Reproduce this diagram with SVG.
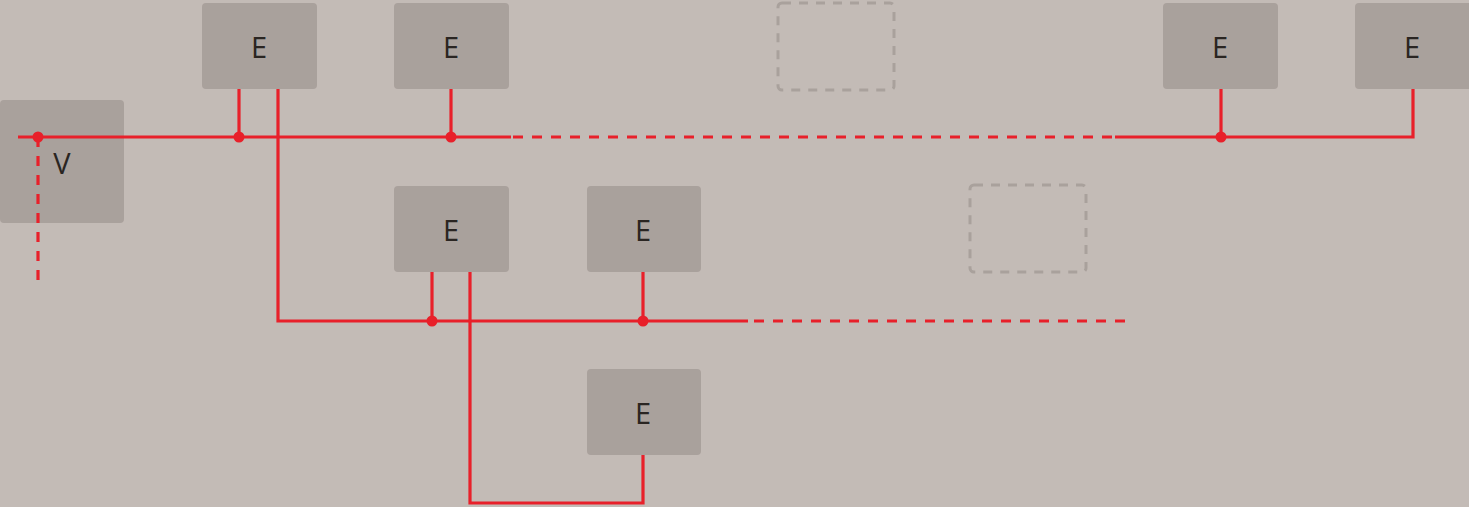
<svg xmlns="http://www.w3.org/2000/svg" width="1469" height="507" viewBox="0 0 1469 507">
<style>
.bg{fill:#c3bbb6}
.box{fill:#a9a19c}
.ghost{fill:none;stroke:#a9a19c;stroke-width:3;stroke-dasharray:9 8}
.lbl{font-family:"Open Sans","Liberation Sans",sans-serif;font-size:29px;fill:#2a2522;text-anchor:middle;dominant-baseline:central}
.w{fill:none;stroke:#e8202a;stroke-width:3.2}
.d{fill:none;stroke:#e8202a;stroke-width:3.2;stroke-dasharray:10 9}
.dot{fill:#e8202a}
</style>
<rect class="bg" x="0" y="0" width="1469" height="507"/>
<g id="V"><rect class="box" x="0" y="100" width="124" height="123" rx="4"/><text class="lbl" x="62" y="162">V</text></g>
<g id="E1"><rect class="box" x="202" y="3" width="115" height="86" rx="4"/><text class="lbl" x="259" y="46">E</text></g>
<g id="E2"><rect class="box" x="394" y="3" width="115" height="86" rx="4"/><text class="lbl" x="451" y="46">E</text></g>
<g id="G1"><rect class="ghost" x="778" y="3" width="116" height="87" rx="4"/></g>
<g id="E3"><rect class="box" x="1163" y="3" width="115" height="86" rx="4"/><text class="lbl" x="1220" y="46">E</text></g>
<g id="E4"><rect class="box" x="1355" y="3" width="118" height="86" rx="4"/><text class="lbl" x="1412" y="46">E</text></g>
<g id="E5"><rect class="box" x="394" y="186" width="115" height="86" rx="4"/><text class="lbl" x="451" y="229">E</text></g>
<g id="E6"><rect class="box" x="587" y="186" width="114" height="86" rx="4"/><text class="lbl" x="643" y="229">E</text></g>
<g id="G2"><rect class="ghost" x="970" y="185" width="116" height="87" rx="4"/></g>
<g id="E7"><rect class="box" x="587" y="369" width="114" height="86" rx="4"/><text class="lbl" x="643" y="412">E</text></g>
<g id="connectors">
<path class="w" d="M18 137H511"/>
<path class="d" d="M513 137H1115"/>
<path class="w" d="M1115 137H1413V89"/>
<path class="d" d="M38 137V284"/>
<path class="w" d="M239 89V137"/>
<path class="w" d="M451 89V137"/>
<path class="w" d="M1221 89V137"/>
<path class="w" d="M278 89V321H748"/>
<path class="d" d="M754 321H1128"/>
<path class="w" d="M432 272V321"/>
<path class="w" d="M643 272V321"/>
<path class="w" d="M470 272V503H643V455"/>
<circle class="dot" cx="38" cy="137" r="5.5"/>
<circle class="dot" cx="239" cy="137" r="5.5"/>
<circle class="dot" cx="451" cy="137" r="5.5"/>
<circle class="dot" cx="1221" cy="137" r="5.5"/>
<circle class="dot" cx="432" cy="321" r="5.5"/>
<circle class="dot" cx="643" cy="321" r="5.5"/>
</g>
</svg>
